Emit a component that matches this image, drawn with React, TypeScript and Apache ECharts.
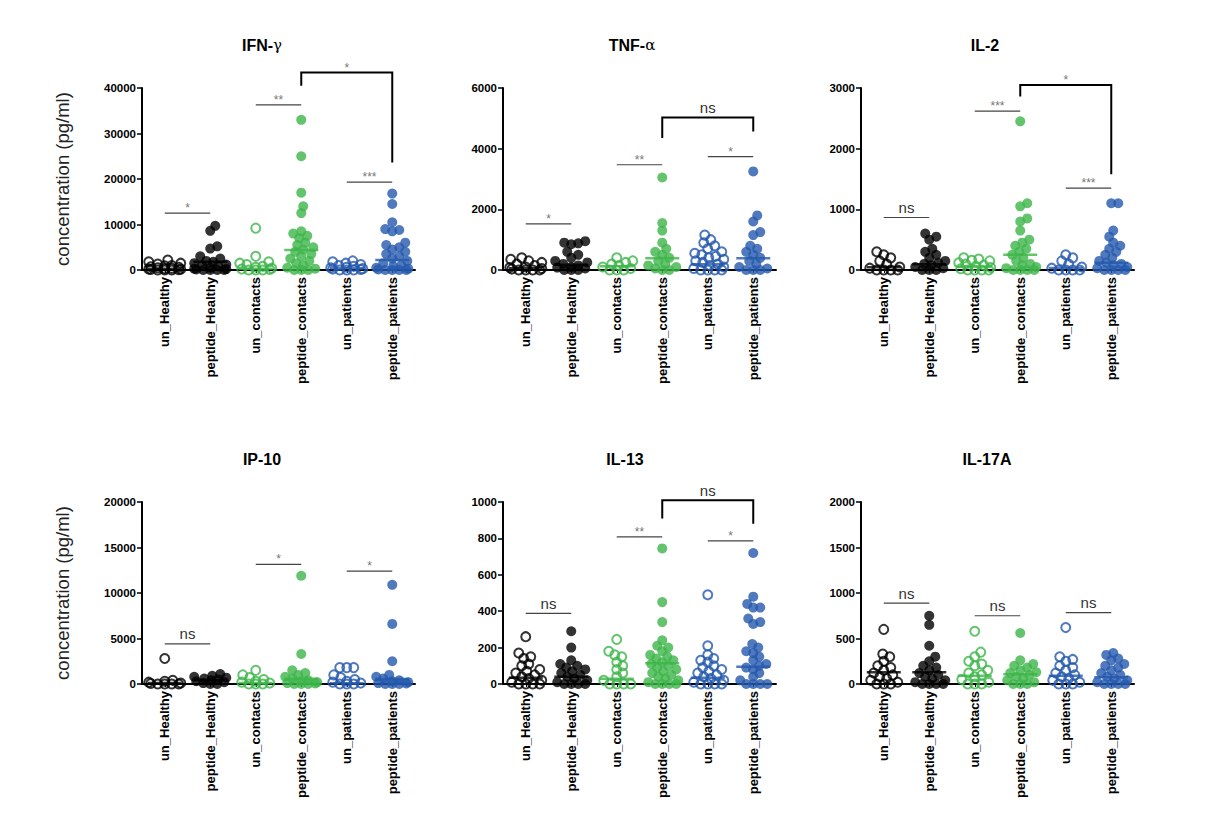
import React, { useEffect, useRef } from "react";
import * as echarts from "echarts";

const FONT = "'Liberation Sans', Arial, sans-serif";

const categories = [
  "un_Healthy",
  "peptide_Healthy",
  "un_contacts",
  "peptide_contacts",
  "un_patients",
  "peptide_patients",
];
const groupColors = ["#000000", "#000000", "#3db54a", "#3db54a", "#2459ad", "#2459ad"];
const groupHollow = [true, false, true, false, true, false];

const panelTitles = ["IFN-", "TNF-", "IL-2", "IP-10", "IL-13", "IL-17A"];
const panelGreek = ["γ", "α", "", "", "", ""];
const yMax = [40000, 6000, 3000, 20000, 1000, 2000];
const yInterval = [10000, 2000, 1000, 5000, 200, 500];
const yAxisName = "concentration (pg/ml)";

// ---- IFN-γ ----
const ifngValues = [
  [2200, 1800, 1500, 1300, 1000, 900, 700, 600, 500, 400, 300, 200, 150, 100, 50, 0, 0, 0],
  [9700, 8600, 5200, 4700, 3000, 2500, 2000, 1800, 1500, 1200, 1000, 800, 500, 300, 200, 100, 0, 0, 0, 0],
  [9200, 3000, 1800, 1500, 1200, 800, 600, 400, 200, 100, 0, 0, 0],
  [33000, 25000, 17000, 14000, 12500, 8500, 8000, 7500, 7000, 6000, 5500, 5000, 4500, 4000, 3500, 3000, 2500, 2000, 1500, 1000, 500, 300, 0, 0, 0],
  [2000, 1800, 1500, 1200, 1000, 800, 600, 500, 300, 200, 100, 0, 0, 0],
  [16800, 14500, 10500, 9000, 8800, 8500, 6000, 5500, 5000, 4500, 4000, 3500, 3000, 2500, 2000, 1500, 1000, 800, 500, 300, 100, 0, 0, 0, 0],
];
const ifngMedians = [300, 1800, 300, 4400, 400, 2200];
const ifngSig = [
  { from: 0, to: 1, y: 12500, label: "*" },
  { from: 2, to: 3, y: 36300, label: "**" },
  { from: 4, to: 5, y: 19300, label: "***" },
  { from: 3, to: 5, y: 43400, left: 40500, right: 23600, label: "*" },
];

// ---- TNF-α ----
const tnfValues = [
  [400, 350, 300, 250, 200, 150, 100, 80, 50, 30, 0, 0, 0, 0],
  [950, 900, 880, 850, 600, 500, 400, 300, 250, 200, 150, 100, 80, 50, 0, 0, 0],
  [400, 300, 250, 200, 150, 100, 50, 0, 0, 0],
  [3050, 1550, 1300, 900, 700, 600, 500, 400, 300, 200, 150, 100, 50, 0, 0],
  [1150, 1000, 900, 800, 700, 600, 550, 500, 450, 400, 350, 300, 250, 200, 150, 100, 50, 0, 0, 0, 0],
  [3250, 1800, 1600, 1250, 1150, 800, 700, 600, 500, 400, 300, 200, 100, 50, 0, 0, 0],
];
const tnfMedians = [60, 170, 120, 385, 190, 385];
const tnfSig = [
  { from: 0, to: 1, y: 1520, label: "*" },
  { from: 2, to: 3, y: 3470, label: "**" },
  { from: 4, to: 5, y: 3740, label: "*" },
  { from: 3, to: 5, y: 5030, left: 4350, right: 4570, label: "ns" },
];

// ---- IL-2 ----
const il2Values = [
  [300, 250, 200, 150, 100, 50, 30, 0, 0, 0, 0],
  [600, 550, 500, 350, 300, 250, 200, 150, 120, 100, 80, 50, 30, 0, 0, 0],
  [200, 180, 160, 150, 120, 100, 80, 60, 40, 20, 0, 0, 0, 0],
  [2450, 1100, 1050, 850, 800, 650, 500, 450, 400, 350, 300, 250, 200, 150, 100, 80, 50, 30, 0, 0, 0, 0],
  [250, 200, 150, 100, 50, 30, 0, 0, 0, 0],
  [1100, 1100, 650, 550, 450, 400, 350, 300, 250, 200, 150, 120, 100, 80, 50, 30, 0, 0, 0, 0],
];
const il2Medians = [45, 95, 55, 250, 33, 120];
const il2Sig = [
  { from: 0, to: 1, y: 865, label: "ns" },
  { from: 2, to: 3, y: 2620, label: "***" },
  { from: 4, to: 5, y: 1350, label: "***" },
  { from: 3, to: 5, y: 3050, left: 2860, right: 1580, label: "*" },
];

// ---- IP-10 ----
const ip10Values = [
  [2800, 400, 300, 200, 100, 50, 0, 0, 0, 0],
  [1100, 900, 800, 700, 600, 500, 400, 300, 200, 100, 0, 0],
  [1500, 1000, 700, 500, 300, 200, 100, 0, 0, 0],
  [11900, 3300, 1500, 1200, 1000, 800, 600, 400, 300, 200, 100, 50, 0, 0, 0],
  [1800, 1800, 1800, 1000, 700, 500, 300, 200, 100, 0, 0, 0],
  [10900, 6600, 2500, 1000, 800, 600, 400, 300, 200, 100, 50, 0, 0, 0],
];
const ip10Medians = [100, 440, 100, 580, 70, 540];
const ip10Sig = [
  { from: 0, to: 1, y: 4400, label: "ns" },
  { from: 2, to: 3, y: 13150, label: "*" },
  { from: 4, to: 5, y: 12400, label: "*" },
];

// ---- IL-13 ----
const il13Values = [
  [260, 170, 150, 140, 110, 100, 80, 70, 60, 50, 40, 30, 20, 10, 0, 0, 0, 0],
  [290, 200, 130, 110, 100, 90, 80, 70, 60, 50, 40, 30, 20, 10, 0, 0, 0, 0],
  [245, 180, 160, 150, 120, 100, 80, 60, 40, 20, 0, 0, 0, 0],
  [745, 450, 340, 240, 210, 200, 180, 160, 150, 140, 130, 120, 110, 100, 90, 80, 70, 60, 50, 40, 30, 20, 10, 0, 0, 0, 0],
  [490, 210, 160, 140, 130, 120, 100, 90, 80, 70, 60, 50, 40, 30, 20, 10, 0, 0, 0, 0],
  [720, 480, 440, 420, 420, 360, 340, 330, 220, 200, 180, 170, 150, 130, 110, 100, 90, 80, 60, 40, 20, 0, 0, 0, 0],
];
const il13Medians = [35, 40, 29, 114, 35, 95];
const il13Sig = [
  { from: 0, to: 1, y: 388, label: "ns" },
  { from: 2, to: 3, y: 808, label: "**" },
  { from: 4, to: 5, y: 786, label: "*" },
  { from: 3, to: 5, y: 1010, left: 910, right: 880, label: "ns" },
];

// ---- IL-17A ----
const il17Values = [
  [600, 330, 300, 250, 200, 180, 150, 120, 100, 80, 60, 40, 20, 0, 0, 0],
  [750, 650, 420, 300, 250, 200, 180, 150, 120, 100, 80, 60, 40, 20, 0, 0, 0, 0],
  [580, 350, 300, 250, 220, 200, 150, 120, 100, 80, 50, 20, 0, 0, 0],
  [560, 260, 220, 200, 180, 150, 130, 120, 100, 80, 60, 40, 20, 0, 0, 0],
  [620, 300, 270, 250, 200, 180, 150, 120, 100, 80, 60, 40, 20, 0, 0, 0],
  [340, 320, 280, 260, 220, 200, 180, 150, 120, 100, 80, 60, 40, 20, 0, 0, 0, 0],
];
const il17Medians = [130, 128, 92, 106, 92, 73];
const il17Sig = [
  { from: 0, to: 1, y: 888, label: "ns" },
  { from: 2, to: 3, y: 750, label: "ns" },
  { from: 4, to: 5, y: 785, label: "ns" },
];

const panelValues = [ifngValues, tnfValues, il2Values, ip10Values, il13Values, il17Values];
const panelMedians = [ifngMedians, tnfMedians, il2Medians, ip10Medians, il13Medians, il17Medians];
const panelSig: any[][] = [ifngSig, tnfSig, il2Sig, ip10Sig, il13Sig, il17Sig];

// layout
const gridLefts = [142, 503, 861];
const gridTops = [88, 502];
const GRID_W = 273;
const GRID_H = 182;
const titleCenters = [262, 632, 985, 262, 625, 987];

// beeswarm horizontal offsets (pixels) computed from the values
function swarm(values: number[], pxPerUnit: number): number[] {
  const minDist = 7;
  const maxOff = 16;
  const order = values.map((_, i) => i).sort((a, b) => values[a] - values[b]);
  const placed: { x: number; y: number }[] = [];
  const offs = new Array(values.length).fill(0);
  for (const i of order) {
    const y = values[i] * pxPerUnit;
    let best = 0;
    let bestScore = Infinity;
    for (let k = 0; k <= maxOff * 2; k++) {
      const cand = (k % 2 === 1 ? 1 : -1) * Math.ceil(k / 2);
      let score = 0;
      for (const p of placed) {
        const d = Math.hypot(p.x - cand, p.y - y);
        if (d < minDist) score += minDist - d;
      }
      if (score === 0) {
        best = cand;
        bestScore = 0;
        break;
      }
      if (score < bestScore - 1e-6) {
        bestScore = score;
        best = cand;
      }
    }
    placed.push({ x: best, y });
    offs[i] = best;
  }
  return offs;
}

function buildOption() {
  const grid: any[] = [];
  const xAxis: any[] = [];
  const yAxis: any[] = [];
  const series: any[] = [];
  const graphic: any[] = [];

  for (let p = 0; p < 6; p++) {
    const row = Math.floor(p / 3);
    const col = p % 3;
    const left = gridLefts[col];
    const top = gridTops[row];
    grid.push({ left, top, width: GRID_W, height: GRID_H, containLabel: false });

    graphic.push({
      type: "text",
      x: titleCenters[p],
      y: top - 43,
      style: {
        text: panelGreek[p] ? `{b|${panelTitles[p]}}{g|${panelGreek[p]}}` : `{b|${panelTitles[p]}}`,
        align: "center",
        verticalAlign: "middle",
        rich: {
          b: { fontFamily: FONT, fontWeight: "bold", fontSize: 16, fill: "#000" },
          g: { fontFamily: "'DejaVu Serif', serif", fontWeight: "normal", fontSize: 15, fill: "#000" },
        },
      },
    });

    xAxis.push({
      type: "category",
      gridIndex: p,
      data: categories,
      boundaryGap: true,
      axisLine: { show: true, lineStyle: { color: "#000", width: 2 } },
      axisTick: { show: true, alignWithLabel: true, length: 3, lineStyle: { color: "#000", width: 1 } },
      axisLabel: {
        rotate: 90,
        interval: 0,
        margin: 7,
        fontFamily: FONT,
        fontWeight: "bold",
        fontSize: 13,
        color: "#000",
      },
      splitLine: { show: false },
    });

    yAxis.push({
      type: "value",
      gridIndex: p,
      min: 0,
      max: yMax[p],
      interval: yInterval[p],
      name: col === 0 ? yAxisName : "",
      nameLocation: "middle",
      nameRotate: 90,
      nameGap: 70,
      nameTextStyle: { fontFamily: FONT, fontSize: 18.5, color: "#222" },
      axisLine: { show: true, lineStyle: { color: "#000", width: 2 } },
      axisTick: { show: true, inside: false, length: 5, lineStyle: { color: "#000", width: 1.5 } },
      axisLabel: {
        margin: 6,
        fontFamily: FONT,
        fontWeight: "bold",
        fontSize: 11.5,
        color: "#000",
        formatter: (v: number) => String(v),
      },
      splitLine: { show: false },
    });

    const pxPerUnit = GRID_H / yMax[p];
    panelValues[p].forEach((vals, g) => {
      const offs = swarm(vals, pxPerUnit);
      const color = groupColors[g];
      const hollow = groupHollow[g];
      series.push({
        type: "scatter",
        xAxisIndex: p,
        yAxisIndex: p,
        symbol: "circle",
        symbolSize: hollow ? 9 : 10,
        silent: true,
        z: 2,
        itemStyle: hollow
          ? { color: "rgba(255,255,255,0)", borderColor: color, borderWidth: 2 }
          : { color, borderWidth: 0 },
        data: vals.map((v, i) => ({ value: [g, v], symbolOffset: [offs[i], 0] })),
      });
    });

    series.push({
      type: "scatter",
      xAxisIndex: p,
      yAxisIndex: p,
      symbol: "rect",
      symbolSize: [34, 2.5],
      silent: true,
      z: 4,
      data: panelMedians[p].map((m, g) => ({ value: [g, m], itemStyle: { color: groupColors[g] } })),
    });

    const sigs = panelSig[p];
    series.push({
      type: "custom",
      xAxisIndex: p,
      yAxisIndex: p,
      clip: false,
      silent: true,
      z: 5,
      encode: { x: 0, y: 1 },
      data: sigs.map((s) => [s.from, s.y]),
      renderItem: (params: any, api: any) => {
        const a = sigs[params.dataIndex];
        const p1 = api.coord([a.from, a.y]);
        const p2 = api.coord([a.to, a.y]);
        const children: any[] = [];
        if (a.left !== undefined) {
          const pl = api.coord([a.from, a.left]);
          const pr = api.coord([a.to, a.right]);
          children.push({
            type: "polyline",
            shape: { points: [pl, p1, p2, pr] },
            style: { stroke: "#000", lineWidth: 2, fill: null },
          });
        } else {
          children.push({
            type: "line",
            shape: { x1: p1[0], y1: p1[1], x2: p2[0], y2: p2[1] },
            style: { stroke: "#444", lineWidth: 1.2 },
          });
        }
        const isNs = a.label === "ns";
        children.push({
          type: "text",
          x: (p1[0] + p2[0]) / 2,
          y: p1[1] - (isNs ? 10 : 5),
          style: {
            text: a.label,
            align: "center",
            verticalAlign: "middle",
            fontFamily: FONT,
            fontSize: isNs ? 15 : 12,
            fill: isNs ? "#333" : "#777",
          },
        });
        return { type: "group", children };
      },
    });
  }

  return {
    animation: false,
    backgroundColor: "#ffffff",
    graphic,
    grid,
    xAxis,
    yAxis,
    series,
  };
}

export default function App() {
  const ref = useRef<HTMLDivElement>(null);
  useEffect(() => {
    if (!ref.current) return;
    const chart = echarts.init(ref.current, undefined, { renderer: "svg" });
    chart.setOption(buildOption() as any);
    return () => chart.dispose();
  }, []);
  return (
    <div
      ref={ref}
      style={{ position: "absolute", left: 0, top: 0, width: 1209, height: 817, background: "#fff" }}
    />
  );
}
